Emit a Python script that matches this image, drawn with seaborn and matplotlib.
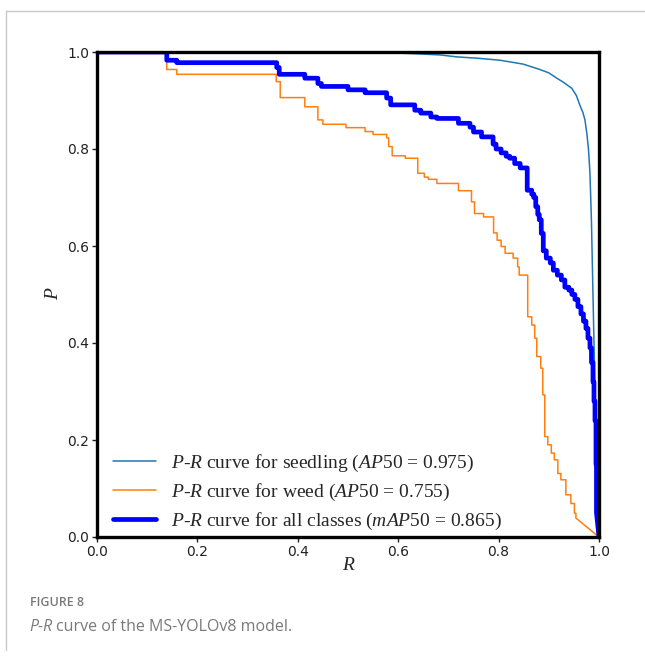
import numpy as np
import pandas as pd
import matplotlib
matplotlib.use("Agg")
import matplotlib.pyplot as plt
from matplotlib.lines import Line2D
import seaborn as sns

# ---- data ----
# weed: step curve (recall where the level starts, precision level)
weed_r = [0.0, 0.139, 0.159, 0.357, 0.365, 0.414, 0.44, 0.45, 0.496, 0.534, 0.55, 0.577,
          0.581, 0.588, 0.614, 0.639, 0.652, 0.66, 0.677, 0.72, 0.746, 0.752, 0.77, 0.79,
          0.797, 0.805, 0.813, 0.829, 0.838, 0.841, 0.858, 0.866, 0.872, 0.876, 0.884,
          0.888, 0.892, 0.898, 0.905, 0.911, 0.918, 0.924, 0.934, 0.944, 0.951, 0.954]
weed_p = [1.0, 0.964, 0.954, 0.939, 0.906, 0.887, 0.860, 0.851, 0.844, 0.836, 0.830, 0.823,
          0.805, 0.786, 0.781, 0.750, 0.742, 0.7375, 0.729, 0.714, 0.691, 0.667, 0.660, 0.627,
          0.612, 0.599, 0.585, 0.575, 0.557, 0.540, 0.454, 0.437, 0.410, 0.372, 0.348,
          0.293, 0.207, 0.190, 0.173, 0.159, 0.131, 0.118, 0.087, 0.069, 0.049, 0.039]
weed_tail_r = [1.0]
weed_tail_p = [0.0]

# all classes: step curve
all_r = [0.0, 0.139, 0.159, 0.358, 0.363, 0.414, 0.44, 0.447, 0.50, 0.534, 0.577, 0.585,
         0.633, 0.645, 0.665, 0.677, 0.72, 0.743, 0.75, 0.766, 0.789, 0.795, 0.805, 0.815,
         0.822, 0.832, 0.843, 0.857, 0.866, 0.87, 0.874, 0.878, 0.881, 0.885, 0.889, 0.895,
         0.903, 0.909, 0.917, 0.925, 0.932, 0.94, 0.946, 0.952, 0.958, 0.964, 0.969, 0.974,
         0.978, 0.982, 0.985, 0.988, 0.990, 0.992, 0.994, 0.995]
all_p = [1.0, 0.983, 0.978, 0.968, 0.954, 0.946, 0.935, 0.929, 0.922, 0.916, 0.905, 0.891,
         0.880, 0.874, 0.866, 0.863, 0.853, 0.845, 0.835, 0.825, 0.810, 0.800, 0.792, 0.785,
         0.781, 0.770, 0.761, 0.715, 0.707, 0.700, 0.681, 0.665, 0.654, 0.626, 0.590, 0.575,
         0.565, 0.550, 0.540, 0.530, 0.515, 0.509, 0.500, 0.490, 0.475, 0.460, 0.445, 0.430,
         0.410, 0.390, 0.360, 0.320, 0.280, 0.240, 0.150, 0.050]
all_tail_r = [1.0]
all_tail_p = [0.0]

# seedling: smooth curve
seed_r = [0.0, 0.5, 0.60, 0.683, 0.716, 0.76, 0.803, 0.849, 0.882, 0.90, 0.916, 0.93,
          0.946, 0.955, 0.962, 0.968, 0.972, 0.976, 0.979, 0.982, 0.985, 0.987, 0.989,
          0.991, 0.993, 0.995, 0.997, 1.0]
seed_p = [1.0, 1.0, 0.998, 0.994, 0.990, 0.987, 0.983, 0.975, 0.964, 0.957, 0.946, 0.937,
          0.925, 0.910, 0.890, 0.875, 0.860, 0.830, 0.800, 0.750, 0.650, 0.550, 0.450,
          0.350, 0.250, 0.150, 0.060, 0.0]

labels = ["$P$-$R$ curve for seedling ($AP$50 = 0.975)",
          "$P$-$R$ curve for weed ($AP$50 = 0.755)",
          "$P$-$R$ curve for all classes ($mAP$50 = 0.865)"]
ticks = [0.0, 0.2, 0.4, 0.6, 0.8, 1.0]


def staircase(r, p, tail_r, tail_p):
    xs, ys = [], []
    for i in range(len(r)):
        xs.append(r[i]); ys.append(p[i])
        nxt = r[i + 1] if i + 1 < len(r) else None
        if nxt is not None:
            xs.append(nxt); ys.append(p[i])
    xs += list(tail_r); ys += list(tail_p)
    return pd.DataFrame({"R": xs, "P": ys})


sns.set_style("ticks")
plt.rcParams["font.family"] = ["DejaVu Sans"]
plt.rcParams["mathtext.fontset"] = "custom"
plt.rcParams["mathtext.rm"] = "Liberation Serif"
plt.rcParams["mathtext.it"] = "Liberation Serif:italic"

fig = plt.figure(figsize=(6.45, 6.56), dpi=100)
ax = fig.add_axes([97 / 645, 1 - 537 / 656, 502 / 645, 485 / 656])

seed_df = pd.DataFrame({"R": seed_r, "P": seed_p})
weed_df = staircase(weed_r, weed_p, weed_tail_r, weed_tail_p)
all_df = staircase(all_r, all_p, all_tail_r, all_tail_p)

sns.lineplot(data=seed_df, x="R", y="P", sort=False, estimator=None, ax=ax,
             color="#1f77b4", lw=1.1, label=labels[0])
sns.lineplot(data=weed_df, x="R", y="P", sort=False, estimator=None, ax=ax,
             color="#ff7f0e", lw=1.1, label=labels[1])
sns.lineplot(data=all_df, x="R", y="P", sort=False, estimator=None, ax=ax,
             color="#0000ff", lw=3.4, label=labels[2])

ax.set_xlim(0, 1)
ax.set_ylim(0, 1)
ax.set_xticks(ticks)
ax.set_yticks(ticks)
ax.set_xticklabels([f"{t:.1f}" for t in ticks])
ax.set_yticklabels([f"{t:.1f}" for t in ticks])
ax.tick_params(direction="out", length=3.5, width=1, labelsize=10, colors="#222222",
               pad=2)
for s in ax.spines.values():
    s.set_visible(True)
    s.set_linewidth(2.4)
    s.set_color("black")

ax.set_xlabel("R", fontsize=14, family="Liberation Serif", style="italic", labelpad=-1)
ax.set_ylabel("P", fontsize=14, family="Liberation Serif", style="italic", labelpad=4)

leg = ax.legend(loc="lower left", frameon=False, fontsize=14, handlelength=2.2,
                handletextpad=0.8, labelspacing=0.42, borderaxespad=0,
                bbox_to_anchor=(0.0163, -0.006))
for t in leg.get_texts():
    t.set_family("Liberation Serif")

# page frame and caption
fig.add_artist(Line2D([6 / 645, 6 / 645], [1 - 650 / 656, 1 - 11 / 656],
                      color="#c8c8c8", lw=1))
fig.add_artist(Line2D([6 / 645, 1.0], [1 - 11 / 656, 1 - 11 / 656],
                      color="#c8c8c8", lw=1))
fig.text(30 / 645, 1 - 603 / 656, "FIGURE 8", family="Open Sans", fontweight="semibold",
         fontsize=9, color="#7a7a7a", va="center", ha="left")
fig.text(29 / 645, 1 - 627 / 656, "P-R", family="Open Sans", style="italic",
         fontsize=11.5, color="#7a7a7a", va="center", ha="left")
fig.text(56 / 645, 1 - 627 / 656, "curve of the MS-YOLOv8 model.", family="Open Sans",
         fontsize=11.5, color="#7a7a7a", va="center", ha="left")

fig.savefig("out.png", dpi=100)
